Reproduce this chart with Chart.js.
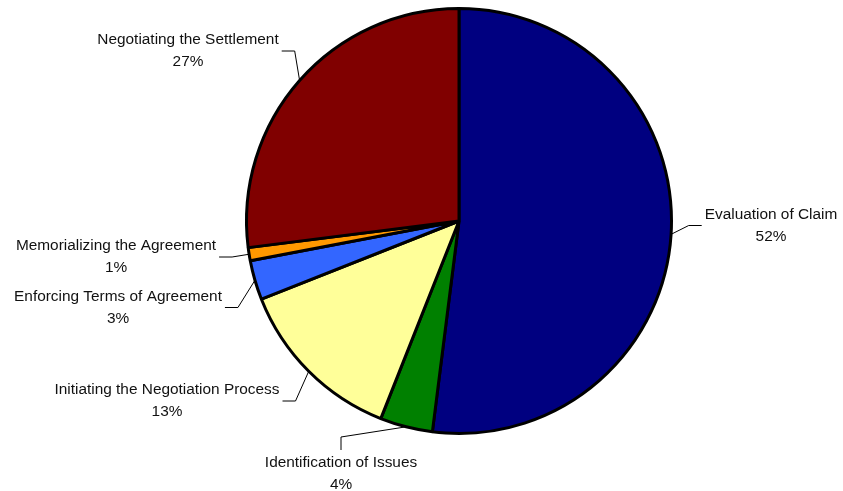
<!DOCTYPE html>
<html>
<head>
<meta charset="utf-8">
<script src="https://cdn.jsdelivr.net/npm/chart.js@4"></script>
<style>
  html, body { margin: 0; padding: 0; background: #fff; }
  canvas { display: block; }
</style>
</head>
<body>
<canvas id="grafica" width="843" height="491"></canvas>
<script>
// etapas y porcentaje de cada una
const etapas = [
  'Evaluation of Claim',
  'Identification of Issues',
  'Initiating the Negotiation Process',
  'Enforcing Terms of Agreement',
  'Memorializing the Agreement',
  'Negotiating the Settlement'
];
const porcentajes = [52, 4, 13, 3, 1, 27];
const colores = ['#000080', '#008000', '#ffff99', '#3366ff', '#ff9900', '#800000'];

// donde va cada etiqueta (centro del bloque de texto, relativo al centro del pastel)
// y por que lado entra la linea guia
const posEtiquetas = [
  { dx: 312, dy: 4.5, lado: 'izq' },
  { dx: -118, dy: 253, lado: 'arriba' },
  { dx: -292, dy: 180, lado: 'der' },
  { dx: -341, dy: 86.5, lado: 'der' },
  { dx: -343, dy: 36, lado: 'der' },
  { dx: -271, dy: -170, lado: 'der' }
];

const fuente = '15.4px "Liberation Sans", Arial, sans-serif';

const etiquetasPlugin = {
  id: 'etiquetas',
  afterDatasetsDraw(chart) {
    const ctx = chart.ctx;
    const arcos = chart.getDatasetMeta(0).data;
    ctx.save();
    ctx.font = fuente;
    ctx.fillStyle = '#111';
    ctx.strokeStyle = '#000';
    ctx.lineWidth = 1;
    ctx.textAlign = 'center';
    ctx.textBaseline = 'middle';

    arcos.forEach((arco, i) => {
      const p = arco.getProps(['x', 'y', 'startAngle', 'endAngle', 'outerRadius'], true);
      const medio = (p.startAngle + p.endAngle) / 2;
      const ax = p.x + Math.cos(medio) * p.outerRadius;
      const ay = p.y + Math.sin(medio) * p.outerRadius;

      const pos = posEtiquetas[i];
      const tx = p.x + pos.dx;
      const ty = p.y + pos.dy;
      const linea1 = etapas[i];
      const linea2 = porcentajes[i] + '%';
      const ancho = Math.max(ctx.measureText(linea1).width, ctx.measureText(linea2).width);

      let fx, fy, cx, cy;
      if (pos.lado === 'izq') {
        fx = tx - ancho / 2 - 3; fy = ty;
        cx = fx - 13; cy = fy;
      } else if (pos.lado === 'der') {
        fx = tx + ancho / 2 + 3; fy = ty;
        cx = fx + 13; cy = fy;
      } else {
        fx = tx; fy = ty - 24;
        cx = fx; cy = fy - 13;
      }

      ctx.beginPath();
      ctx.moveTo(ax, ay);
      ctx.lineTo(cx, cy);
      ctx.lineTo(fx, fy);
      ctx.stroke();

      ctx.fillText(linea1, tx, ty - 11);
      ctx.fillText(linea2, tx, ty + 11);
    });
    ctx.restore();
  }
};

new Chart(document.getElementById('grafica').getContext('2d'), {
  type: 'pie',
  data: {
    labels: etapas,
    datasets: [{
      data: porcentajes,
      backgroundColor: colores,
      borderColor: '#000',
      borderWidth: 3,
      hoverOffset: 0
    }]
  },
  options: {
    responsive: false,
    animation: false,
    devicePixelRatio: 1,
    radius: 212.5,
    layout: {
      padding: { left: 245, right: 170, top: 7, bottom: 56 }
    },
    plugins: {
      legend: { display: false },
      tooltip: { enabled: false }
    },
    events: []
  },
  plugins: [etiquetasPlugin]
});
</script>
</body>
</html>
